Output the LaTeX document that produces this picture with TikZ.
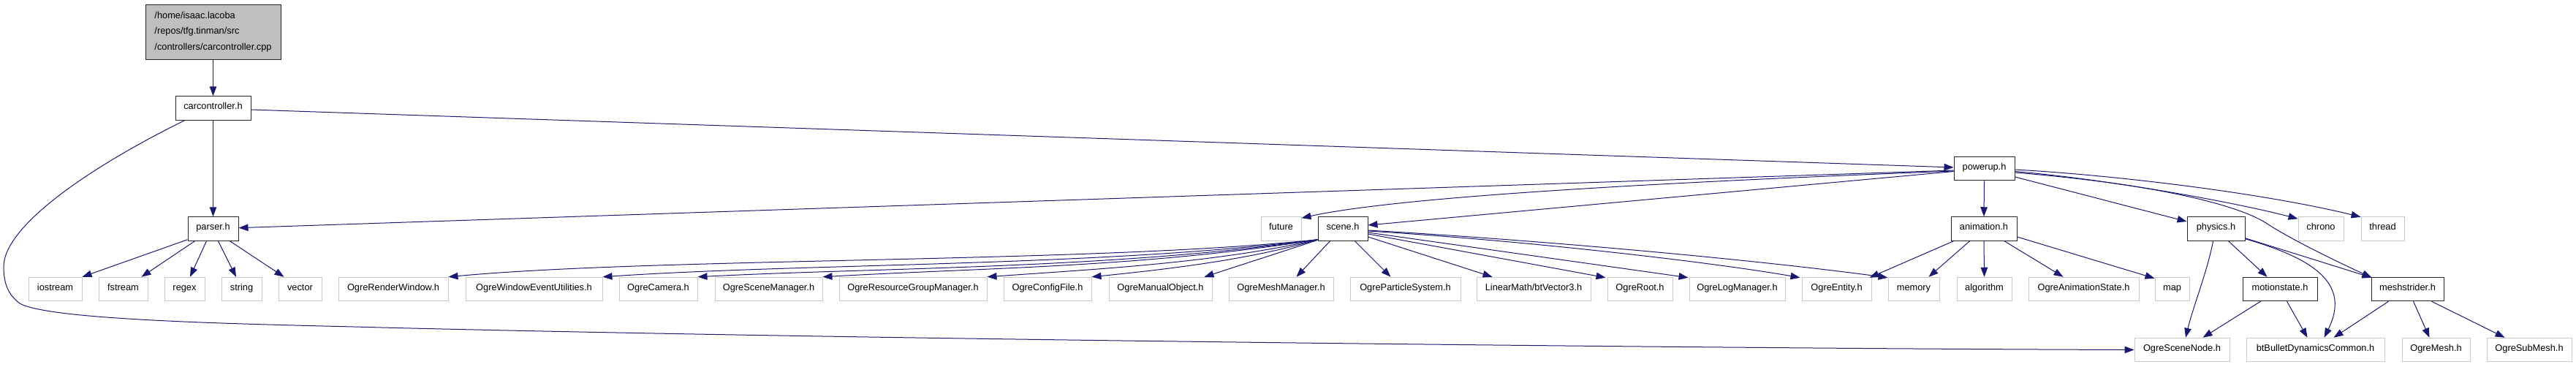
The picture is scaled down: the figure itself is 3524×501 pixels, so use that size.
\documentclass[tikz,border=0pt]{standalone}
\usepackage{fontspec}
\setmainfont{Liberation Sans}
\usetikzlibrary{arrows.meta,calc}
\definecolor{edgec}{HTML}{191970}
\definecolor{greyfill}{HTML}{BFBFBF}
\definecolor{greyline}{HTML}{C8C8C8}
\begin{document}
\begin{tikzpicture}[x=1pt,y=-1pt,
  box/.style={rectangle, inner sep=0pt, minimum height=32.5pt, line width=1pt,
    font=\fontsize{12.8}{15}\selectfont, text height=10pt, text depth=7pt},
  doc/.style={box, draw=black!85, fill=white},
  ext/.style={box, draw=greyline, fill=white},
  rootbox/.style={draw=black!85, fill=greyfill, line width=1pt, inner sep=0pt,
    align=left, font=\fontsize{12.8}{21.4}\selectfont},
  edge/.style={draw=edgec, line width=1pt, -{Triangle[length=13pt,width=9.5pt]}}]
\useasboundingbox (0,0) rectangle (3524,501);

% ---------- nodes ----------
\node[rootbox, minimum width=185pt, minimum height=75pt] (cpp) at (291.5,43.5)
  {/home/isaac.lacoba\\/repos/tfg.tinman/src\\/controllers/carcontroller.cpp};
\node[doc, minimum width=103pt] (car) at (291.5,148) {carcontroller.h};
\node[doc, minimum width=83pt] (powerup) at (2714.5,230.5) {powerup.h};

\node[doc, minimum width=69pt] (parser) at (291.5,313) {parser.h};
\node[ext, minimum width=55pt] (future) at (1752.5,313) {future};
\node[doc, minimum width=68pt] (scene) at (1837,313) {scene.h};
\node[doc, minimum width=90pt] (anim) at (2714,313) {animation.h};
\node[doc, minimum width=79pt] (physics) at (3031.5,313) {physics.h};
\node[ext, minimum width=62pt] (chrono) at (3175,313) {chrono};
\node[ext, minimum width=59pt] (thread) at (3259.5,313) {thread};

\node[ext, minimum width=73pt] (iostream) at (75.5,395.5) {iostream};
\node[ext, minimum width=67pt] (fstream) at (168.5,395.5) {fstream};
\node[ext, minimum width=55pt] (regex) at (252.5,395.5) {regex};
\node[ext, minimum width=55pt] (string) at (330.5,395.5) {string};
\node[ext, minimum width=59pt] (vector) at (410.5,395.5) {vector};
\node[ext, minimum width=150pt] (rw) at (538,395.5) {OgreRenderWindow.h};
\node[ext, minimum width=187pt] (weu) at (730.5,395.5) {OgreWindowEventUtilities.h};
\node[ext, minimum width=107pt] (cam) at (900.5,395.5) {OgreCamera.h};
\node[ext, minimum width=147pt] (smgr) at (1051.5,395.5) {OgreSceneManager.h};
\node[ext, minimum width=202pt] (rgm) at (1249,395.5) {OgreResourceGroupManager.h};
\node[ext, minimum width=120pt] (cfg) at (1433,395.5) {OgreConfigFile.h};
\node[ext, minimum width=141pt] (mo) at (1587.5,395.5) {OgreManualObject.h};
\node[ext, minimum width=143pt] (mm) at (1752.5,395.5) {OgreMeshManager.h};
\node[ext, minimum width=151pt] (ps) at (1922.5,395.5) {OgreParticleSystem.h};
\node[ext, minimum width=156pt] (btv) at (2098,395.5) {LinearMath/btVector3.h};
\node[ext, minimum width=89pt] (root) at (2243.5,395.5) {OgreRoot.h};
\node[ext, minimum width=131pt] (log) at (2376.5,395.5) {OgreLogManager.h};
\node[ext, minimum width=95pt] (ent) at (2512.5,395.5) {OgreEntity.h};
\node[ext, minimum width=70pt] (memory) at (2618,395.5) {memory};
\node[ext, minimum width=75pt] (algo) at (2714.5,395.5) {algorithm};
\node[ext, minimum width=151pt] (anst) at (2850.5,395.5) {OgreAnimationState.h};
\node[ext, minimum width=47pt] (map) at (2971.5,395.5) {map};
\node[doc, minimum width=102pt] (motion) at (3119,395.5) {motionstate.h};
\node[doc, minimum width=99pt] (mesh) at (3293.5,395.5) {meshstrider.h};

\node[ext, minimum width=130pt] (sn) at (2985,478.5) {OgreSceneNode.h};
\node[ext, minimum width=189pt] (btb) at (3167.5,478.5) {btBulletDynamicsCommon.h};
\node[ext, minimum width=93pt] (omesh) at (3332.5,478.5) {OgreMesh.h};
\node[ext, minimum width=116pt] (osub) at (3460,478.5) {OgreSubMesh.h};

% ---------- edges ----------
\draw[edge] (cpp.south) -- (car.north);
\draw[edge] (car.south) -- (parser.north);
\draw[edge] ($(car.east)+(0,2)$) -- ($(powerup.west)+(0,-1.5)$);
\draw[edge] ($(car.south west)+(13,0)$) .. controls (120,230) and (5,310) .. (5,365)
  .. controls (5,392) and (14,405) .. (27,415)
  .. controls (70,440) and (380,444) .. (522,448)
  .. controls (1200,465) and (2400,477) .. (sn.west);

% parser
\draw[edge] ($(parser.south west)+(0,-2)$) -- (iostream.north east);
\draw[edge] ($(parser.south west)+(10,0)$) -- ($(fstream.north east)+(-9,0)$);
\draw[edge] ($(parser.south west)+(26,0)$) -- ($(regex.north)+(7.5,0)$);
\draw[edge] ($(parser.south west)+(42,0)$) -- ($(string.north)+(-7.5,0)$);
\draw[edge] ($(parser.south west)+(58,0)$) -- ($(vector.north)+(-22,0)$);

% powerup
\draw[edge] ($(powerup.west)+(0,2.5)$) -- ($(parser.east)+(0,-1.3)$);
\draw[edge] ($(powerup.west)+(0,3.5)$) .. controls (2200,252) and (1900,272) .. ($(future.north east)+(0,2)$);
\draw[edge] ($(powerup.west)+(0,4)$) -- ($(scene.east)+(0,-5)$);
\draw[edge] (powerup.south) -- (anim.north);
\draw[edge] ($(powerup.east)+(0,11.5)$) -- ($(physics.west)+(0,-10)$);
\draw[edge] ($(powerup.east)+(0,4)$) .. controls (2880,245) and (3050,275) .. ($(chrono.north west)+(0,3)$);
\draw[edge] ($(powerup.east)+(0,1.5)$) .. controls (2900,240) and (3100,265) .. ($(thread.north west)+(0,0.5)$);
\draw[edge] ($(powerup.east)+(0,5.5)$) .. controls (2950,252) and (3060,280) .. (3100,305)
  .. controls (3125,322) and (3180,350) .. ($(mesh.north west)+(1,1)$);

% scene, left fan
\draw[edge] ($(scene.south west)+(0,-2)$) .. controls (1500,360) and (900,352) .. (rw.north east);
\draw[edge] ($(scene.south west)+(0,-2)$) .. controls (1500,365) and (1100,360) .. (weu.north east);
\draw[edge] ($(scene.south west)+(0,-2)$) .. controls (1520,368) and (1200,366) .. (cam.north east);
\draw[edge] ($(scene.south west)+(0,-2)$) .. controls (1560,366) and (1350,366) .. (smgr.north east);
\draw[edge] ($(scene.south west)+(0,-2)$) .. controls (1660,360) and (1500,368) .. (rgm.north east);
\draw[edge] ($(scene.south west)+(0,-2)$) .. controls (1710,355) and (1600,368) .. (cfg.north east);
\draw[edge] ($(scene.south west)+(-1,-1)$) -- ($(mo.north east)+(-11,0)$);
\draw[edge] ($(scene.south west)+(17,0)$) -- ($(mm.north east)+(-51,0)$);
\draw[edge] ($(scene.south west)+(51,0)$) -- ($(ps.north west)+(56,0)$);
% scene, right fan
\draw[edge] ($(scene.east)+(0,11)$) -- ($(btv.north west)+(22,0)$);
\draw[edge] ($(scene.east)+(0,7)$) -- ($(root.north west)+(-2,1)$);
\draw[edge] ($(scene.east)+(0,5)$) -- ($(log.north west)+(-1,1)$);
\draw[edge] ($(scene.east)+(0,3)$) .. controls (2100,330) and (2350,360) .. ($(ent.north west)+(-2,1)$);
\draw[edge] ($(scene.east)+(0,2)$) .. controls (2100,328) and (2400,355) .. ($(memory.north west)+(0,1)$);

% animation
\draw[edge] ($(anim.south west)+(4,0)$) -- ($(ent.north east)+(-3,1)$);
\draw[edge] ($(anim.south west)+(26,0)$) -- ($(memory.north east)+(-15,0)$);
\draw[edge] (anim.south) -- (algo.north);
\draw[edge] ($(anim.south)+(28,0)$) -- ($(anst.north west)+(48,0)$);
\draw[edge] ($(anim.east)+(0,11)$) -- ($(map.north west)+(0,2)$);

% physics
\draw[edge] ($(physics.south west)+(36,0)$) .. controls (3020,370) and (3000,420) .. ($(sn.north)+(5,0)$);
\draw[edge] ($(physics.south west)+(57,0)$) -- ($(motion.north west)+(34,0)$);
\draw[edge] ($(physics.south east)+(0,-3)$) .. controls (3170,355) and (3215,390) .. ($(btb.north)+(12,0)$);
\draw[edge] ($(physics.south east)+(0,-4)$) -- ($(mesh.north west)+(1,1)$);

% motionstate
\draw[edge] ($(motion.south west)+(25,0)$) -- ($(sn.north east)+(-37,0)$);
\draw[edge] ($(motion.south west)+(61,0)$) -- ($(btb.north west)+(84,0)$);

% meshstrider
\draw[edge] ($(mesh.south west)+(24,0)$) -- ($(btb.north west)+(120,0)$);
\draw[edge] ($(mesh.south west)+(58,0)$) -- ($(omesh.north west)+(38,0)$);
\draw[edge] ($(mesh.south west)+(83,0)$) -- ($(osub.north west)+(25,0)$);
\end{tikzpicture}
\end{document}
